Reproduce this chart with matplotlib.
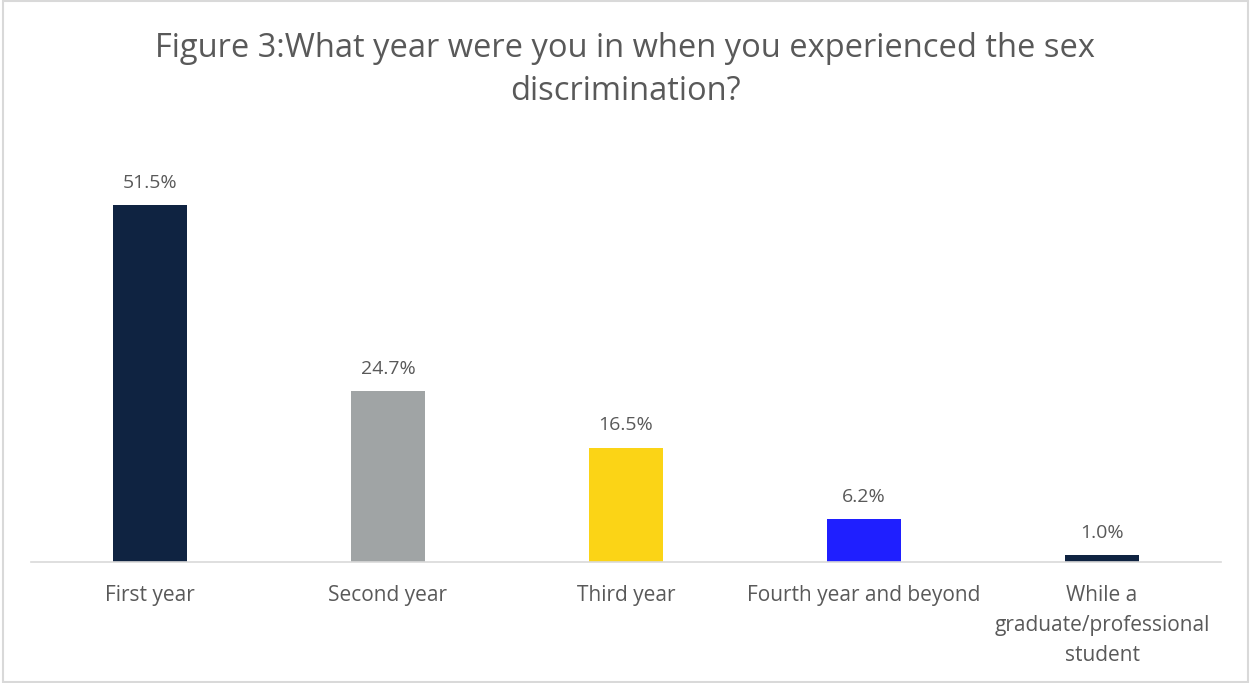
import matplotlib.pyplot as plt
from matplotlib.patches import Rectangle

plt.rcParams['font.family'] = ['Open Sans', 'DejaVu Sans']

categories = ['First year', 'Second year', 'Third year', 'Fourth year and beyond',
              'While a\ngraduate/professional\nstudent']
values = [51.5, 24.7, 16.5, 6.2, 1.0]
labels = ['51.5%', '24.7%', '16.5%', '6.2%', '1.0%']
colors = ['#0F2341', '#A0A4A5', '#FBD416', '#1F1FFF', '#0F2341']

txt = '#595959'

fig = plt.figure(figsize=(12.5, 6.83), dpi=100)
fig.patches.append(Rectangle((0.002, 0.002), 0.996, 0.996, transform=fig.transFigure,
                             fill=False, edgecolor='#D9D9D9', linewidth=1.5))

ax = fig.add_axes([31 / 1250, 1 - 562 / 683, 1190 / 1250, 416 / 683])
x = range(len(categories))
bars = ax.bar(x, values, width=0.315, color=colors)
for b, lab in zip(bars, labels):
    ax.annotate(lab, (b.get_x() + b.get_width() / 2, b.get_height()),
                xytext=(0, 16), textcoords='offset points',
                ha='center', va='center', fontsize=14, color=txt)

ax.set_xlim(-0.5, len(categories) - 0.5)
ax.set_ylim(0, 60)
ax.set_yticks([])
ax.set_xticks(list(x))
ax.set_xticklabels(categories, fontsize=15, color=txt)
for t in ax.get_xticklabels():
    t.set_linespacing(1.55)
ax.tick_params(axis='x', length=0, pad=16.5)
for s in ['top', 'left', 'right']:
    ax.spines[s].set_visible(False)
ax.spines['bottom'].set_color('#D9D9D9')
ax.spines['bottom'].set_linewidth(1.2)

fig.text(0.5, 1 - 70 / 683,
         'Figure 3:What year were you in when you experienced the sex\ndiscrimination?',
         ha='center', va='center', fontsize=23.5, color=txt, linespacing=1.4)

fig.savefig('out.png', dpi=100)
